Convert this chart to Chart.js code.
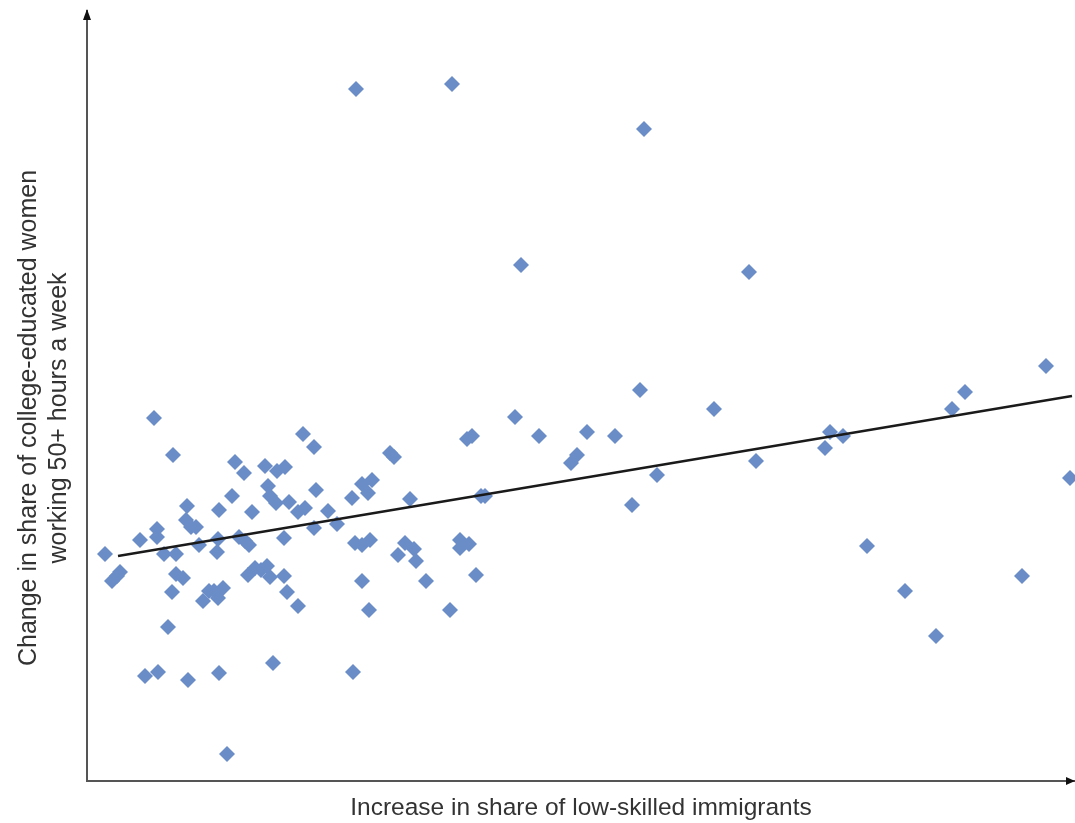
<!DOCTYPE html>
<html>
<head>
<meta charset="utf-8">
<script src="https://cdn.jsdelivr.net/npm/chart.js@4.4.1/dist/chart.umd.min.js"></script>
<style>
  html, body { margin: 0; padding: 0; background: #fff; }
  #box { width: 1075px; height: 823px; }
</style>
</head>
<body>
<div id="box"><canvas id="graph"></canvas></div>
<script>
// increase in share of low-skilled immigrants (arbitrary units, no ticks shown)
var immigrant_x = [
  269, 365, 557, 434, 662, 959, 878, 865, 553, 627, 428, 743, 756, 738, 669, 570, 545, 983, 780, 818,
  849, 935, 528, 500, 490, 484, 452, 385, 380, 398, 394, 363, 389, 382, 373, 373, 339, 329, 327, 318,
  311, 323, 307, 303, 285, 281, 275, 265, 275, 282, 283, 275, 268, 266, 250, 241, 229, 227, 227, 216,
  218, 211, 211, 202, 200, 197, 197, 198, 190, 189, 183, 181, 178, 183, 180, 174, 168, 161, 186, 165,
  162, 158, 152, 157, 148, 145, 132, 131, 130, 136, 131, 127, 122, 116, 132, 140, 112, 109, 104, 99,
  100, 96, 89, 89, 85, 86, 77, 81, 70, 70, 67, 53, 58, 71, 101, 18, 25, 30, 33
];
// change in share of college-educated women working 50+ hours a week
var hours_y = [
  692, 697, 652, 516, 509, 415, 389, 372, 391, 372, 364, 349, 345, 333, 320, 306, 276, 303, 235, 190,
  145, 205, 345, 349, 326, 318, 345, 345, 342, 285, 285, 171, 206, 237, 241, 233, 200, 220, 232, 238,
  226, 282, 324, 328, 301, 288, 297, 283, 200, 171, 241, 236, 238, 109, 257, 270, 291, 253, 334, 347,
  273, 269, 175, 279, 189, 205, 243, 314, 310, 278, 285, 295, 315, 204, 215, 211, 213, 206, 118, 269,
  236, 240, 244, 308, 319, 285, 271, 242, 229, 193, 183, 190, 190, 180, 108, 27, 236, 254, 254, 261,
  275, 203, 207, 227, 189, 326, 227, 154, 244, 252, 363, 241, 105, 109, 101, 227, 200, 205, 209
];
// fitted trend line end points
var trend_x = [31, 985];
var trend_y = [225, 385];

var pts = immigrant_x.map((v, i) => ({ x: v, y: hours_y[i] }));
var trend = trend_x.map((v, i) => ({ x: v, y: trend_y[i] }));

var y_title = ['Change in share of college-educated women', 'working 50+ hours a week'];

// arrow heads at the end of both axes + the rotated y title
var extras = {
  id: 'extras',
  afterDraw(c) {
    var ctx = c.ctx, a = c.chartArea;
    ctx.save();
    ctx.fillStyle = '#111';
    ctx.beginPath();
    ctx.moveTo(a.left, a.top - 2);
    ctx.lineTo(a.left - 4, a.top + 9);
    ctx.lineTo(a.left + 4, a.top + 9);
    ctx.closePath();
    ctx.fill();
    ctx.beginPath();
    ctx.moveTo(a.right, a.bottom);
    ctx.lineTo(a.right - 9, a.bottom - 4);
    ctx.lineTo(a.right - 9, a.bottom + 4);
    ctx.closePath();
    ctx.fill();

    ctx.translate(0, 418);
    ctx.rotate(-Math.PI / 2);
    ctx.fillStyle = '#333';
    ctx.font = '25px "Liberation Sans"';
    ctx.textAlign = 'center';
    ctx.textBaseline = 'middle';
    ctx.fillText(y_title[0], 0, 29);
    ctx.fillText(y_title[1], 0, 59);
    ctx.restore();
  }
};

var chart = new Chart("graph", {
  type: "scatter",
  data: {
    datasets: [
      {
        data: pts,
        pointStyle: 'rectRot',
        pointRadius: 8,
        pointBackgroundColor: '#6a8cc7',
        pointBorderWidth: 0,
        order: 2
      },
      {
        type: 'line',
        data: trend,
        borderColor: '#1a1a1a',
        borderWidth: 2.5,
        pointRadius: 0,
        order: 1
      }
    ]
  },
  options: {
    responsive: true,
    maintainAspectRatio: false,
    animation: false,
    layout: { autoPadding: false, padding: { top: 11, right: 0, left: 0, bottom: 0 } },
    plugins: { legend: { display: false }, tooltip: { enabled: false } },
    scales: {
      x: {
        min: 0, max: 988,
        grid: { display: false, drawTicks: false },
        border: { color: '#555', width: 2 },
        ticks: { display: false },
        title: {
          display: true,
          text: 'Increase in share of low-skilled immigrants',
          color: '#333',
          font: { family: 'Liberation Sans', size: 24.5 },
          padding: { top: 12, bottom: 0 }
        },
        afterFit: s => { s.height = 42; }
      },
      y: {
        min: 0, max: 770,
        grid: { display: false, drawTicks: false },
        border: { color: '#555', width: 2 },
        ticks: { display: false },
        afterFit: s => { s.width = 87; }
      }
    }
  },
  plugins: [extras]
});
</script>
</body>
</html>
